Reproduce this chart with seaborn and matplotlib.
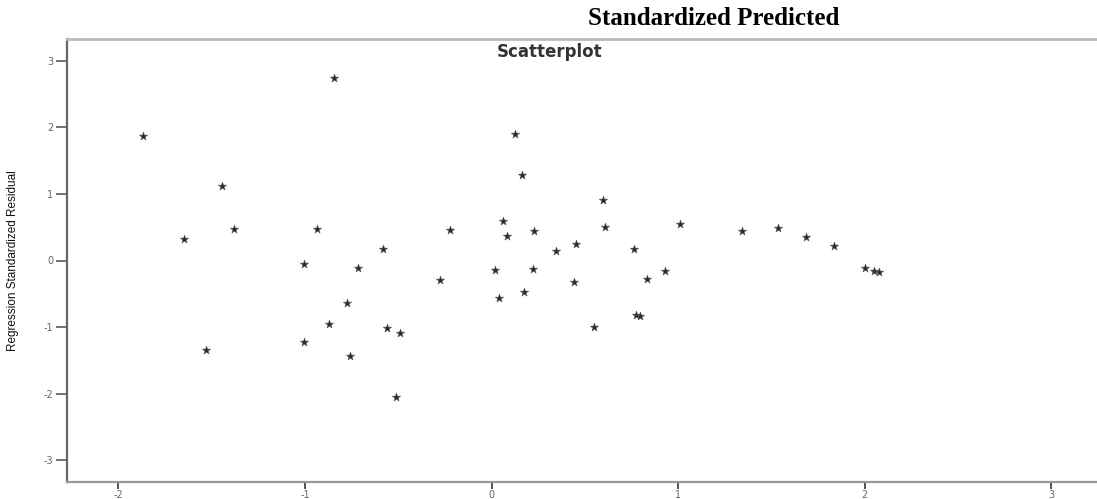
import matplotlib
matplotlib.use("Agg")
import matplotlib.pyplot as plt
import seaborn as sns
import pandas as pd

# Standardized predicted value (x) and standardized residual (y)
pred = [-1.869, -1.442, -1.378, -1.648, -0.935, -1.007, -1.003, -1.528, -0.843,
        -0.579, -0.715, -0.275, -0.777, -0.869, -0.558, -0.490, -0.761, -0.511,
        0.125, 0.161, 0.063, -0.225, 0.229, 0.084, 0.345, 0.454, 0.018, 0.222,
        0.441, 0.174, 0.041, 0.595, 0.610, 1.008, 0.765, 0.930, 0.836, 0.774,
        0.797, 0.547, 1.343, 1.537, 1.687, 1.836, 2.002, 2.052, 2.079]
resid = [1.874, 1.119, 0.473, 0.318, 0.473, -0.053, -1.224, -1.348, 2.740,
         0.168, -0.108, -0.296, -0.634, -0.953, -1.018, -1.084, -1.429, -2.045,
         1.904, 1.284, 0.589, 0.453, 0.443, 0.372, 0.147, 0.248, -0.147, -0.132,
         -0.323, -0.477, -0.563, 0.908, 0.503, 0.553, 0.173, -0.162, -0.282, -0.814,
         -0.833, -1.003, 0.447, 0.483, 0.348, 0.222, -0.117, -0.158, -0.180]
x_ticks = [-2, -1, 0, 1, 2, 3]
y_ticks = [-3, -2, -1, 0, 1, 2, 3]

df = pd.DataFrame({"pred": pred, "resid": resid})

sns.set_theme(style="white")
plt.rcParams["font.family"] = ["DejaVu Sans"]

W, H = 1097, 499
fig = plt.figure(figsize=(W / 100, H / 100), dpi=100)
ax = fig.add_axes([67 / W, 1 - 482 / H, (W - 67) / W, (482 - 39) / H])

sns.scatterplot(data=df, x="pred", y="resid", marker="*", s=40,
                color="#2a2a2a", edgecolor="#555555", linewidth=0.4, ax=ax)

ax.set_xlim(-2.275, 3.245)
ax.set_ylim(-3.326, 3.326)
ax.set_xticks(x_ticks)
ax.set_yticks(y_ticks)
ax.set_xticklabels([str(v) for v in x_ticks])
ax.set_yticklabels([str(v) for v in y_ticks])
ax.set_xlabel("")
ax.set_ylabel("Regression Standardized Residual",
              family=["Liberation Sans Narrow", "Liberation Sans", "DejaVu Sans"],
              fontsize=8.5, color="#111111")
ax.yaxis.set_label_coords(-0.047, 0.5)

ax.tick_params(axis="x", direction="out", length=5, width=1.3, color="#444444",
               pad=1, labelsize=7, labelcolor="#666666", bottom=True)
ax.tick_params(axis="y", direction="out", length=8, width=1.3, color="#666666",
               pad=2, labelsize=7, labelcolor="#666666", left=True)

ax.spines["left"].set_color("#666666")
ax.spines["left"].set_linewidth(1.6)
ax.spines["bottom"].set_color("#999999")
ax.spines["bottom"].set_linewidth(1.6)
ax.spines["top"].set_color("#bbbbbb")
ax.spines["top"].set_linewidth(2.0)
ax.spines["right"].set_visible(False)

ax.text((549.5 - 67) / (W - 67), 1 - (52 - 39) / (482 - 39),
        "Scatterplot", transform=ax.transAxes, ha="center", va="center",
        fontsize=12, fontweight="bold", color="#333333")

fig.text(839 / W, 1 - 25 / H, "Standardized Predicted", ha="right", va="baseline",
         family=["Liberation Serif", "DejaVu Serif"], fontsize=18,
         fontweight="bold", color="#000000")

fig.savefig("out.png", dpi=100)
